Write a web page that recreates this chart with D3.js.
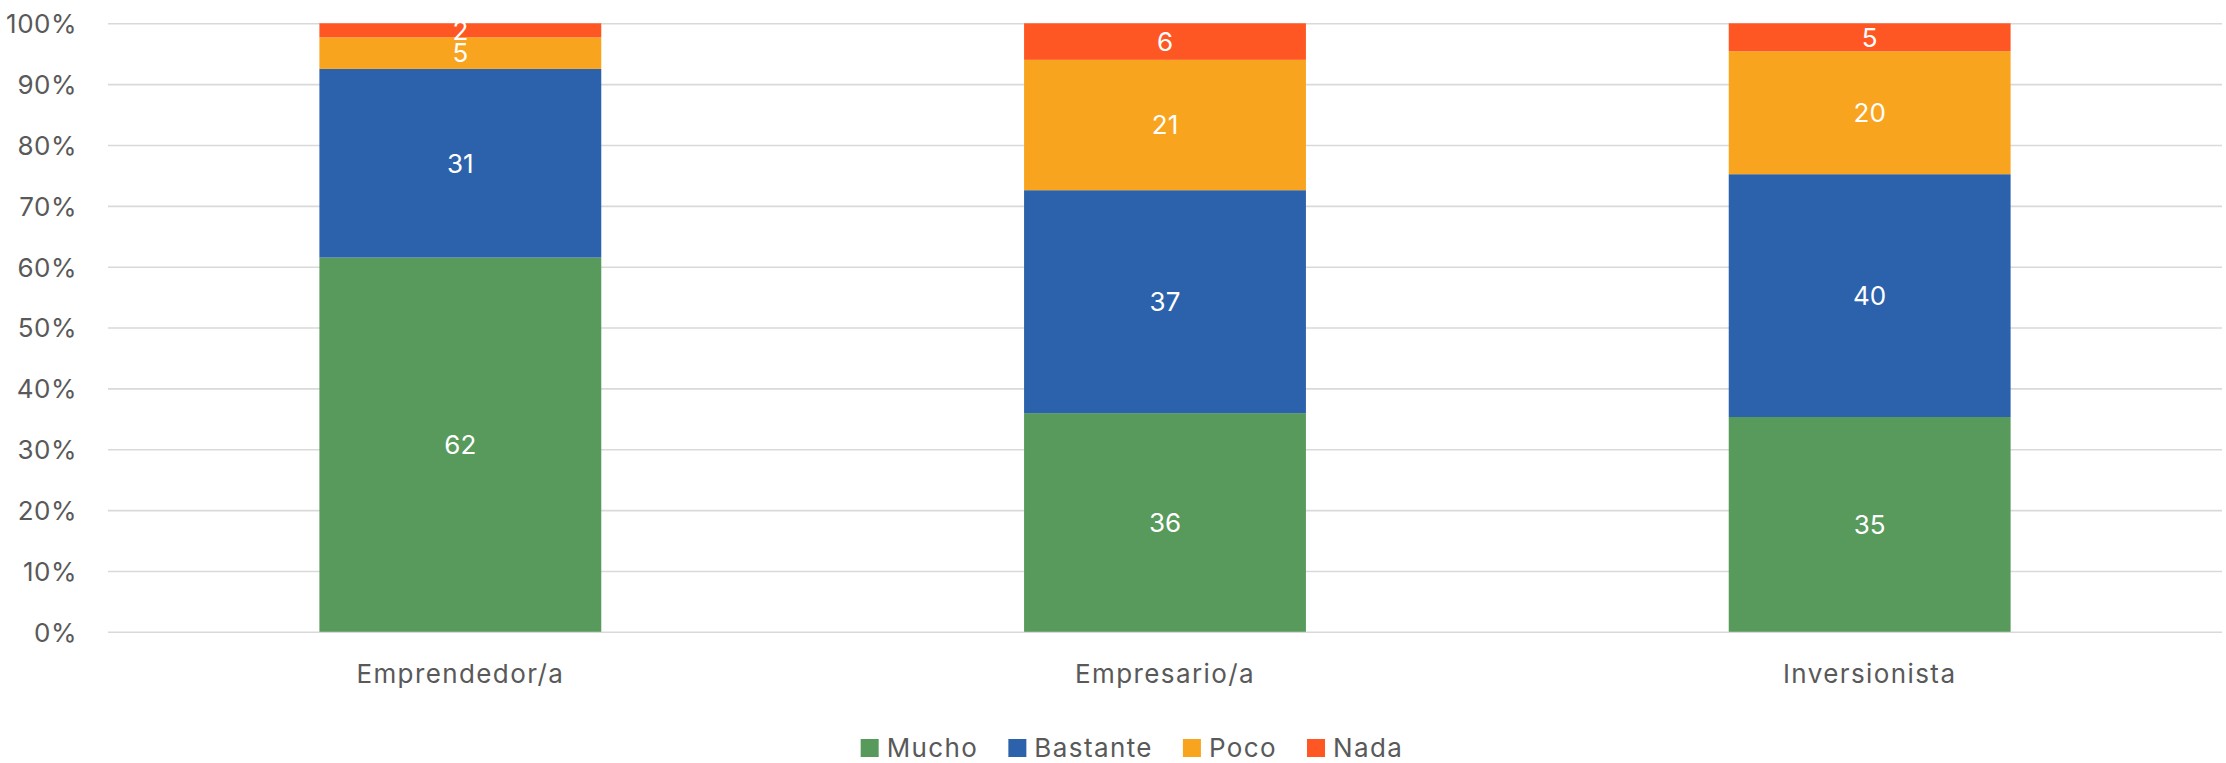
<!DOCTYPE html>
<html>
<head>
<meta charset="utf-8">
<script src="https://cdn.jsdelivr.net/npm/d3@7"></script>
<style>
  html, body { margin: 0; padding: 0; background: #fff; }
  svg { display: block; }
  text { font-family: "Inter", "Open Sans", sans-serif; }
</style>
</head>
<body>
<svg id="chart" width="2226" height="763"></svg>
<script>
// ---- data ----
const categories = ["Emprendedor/a", "Empresario/a", "Inversionista"];
const seriesNames = ["Mucho", "Bastante", "Poco", "Nada"];
const mucho    = [61.5, 35.9, 35.3];
const bastante = [31.0, 36.6, 39.9];
const poco     = [5.2, 21.4, 20.2];
const nada     = [2.3, 6.0, 4.6];
const yTicks   = [0, 0.1, 0.2, 0.3, 0.4, 0.5, 0.6, 0.7, 0.8, 0.9, 1.0];
const colors   = ["#579A5C", "#2C62AB", "#F9A41E", "#FF5724"];

const seriesValues = [mucho, bastante, poco, nada];
const table = categories.map((c, i) => {
  const row = { category: c };
  seriesNames.forEach((s, j) => row[s] = seriesValues[j][i]);
  return row;
});

const svg = d3.select("#chart");
const plotLeft = 108, plotRight = 2222, plotTop = 23.3, plotBottom = 631.8;
const textColor = "#595959";
const fs = 26;
const spacing = 1.4;

const x = d3.scaleBand().domain(categories).range([plotLeft, plotRight])
  .paddingInner(0.6).paddingOuter(0.3);
const y = d3.scaleLinear().domain([0, 1]).range([plotBottom, plotTop]);

// gridlines
const yAxis = d3.axisLeft(y).tickValues(yTicks).tickSize(-(plotRight - plotLeft)).tickFormat(d3.format(".0%")).tickPadding(31);
const gY = svg.append("g").attr("transform", `translate(${plotLeft},0)`).call(yAxis);
gY.select(".domain").remove();
gY.selectAll(".tick line").attr("stroke", "#d9d9d9").attr("stroke-width", 1.6);
gY.selectAll(".tick text").attr("fill", textColor).attr("font-size", fs)
  .attr("font-family", "Inter").attr("letter-spacing", 0.5).attr("dy", "0.36em");

// stack
const stack = d3.stack().keys(seriesNames).offset(d3.stackOffsetExpand);
const stacked = stack(table);

const layers = svg.append("g").selectAll("g").data(stacked).join("g")
  .attr("fill", (d, i) => colors[i]);
layers.selectAll("rect").data(d => d).join("rect")
  .attr("x", d => x(d.data.category))
  .attr("width", x.bandwidth())
  .attr("y", d => y(d[1]))
  .attr("height", d => y(d[0]) - y(d[1]));

// data labels
const labels = svg.append("g");
stacked.forEach((layer) => {
  labels.selectAll(null).data(layer).join("text")
    .attr("x", d => x(d.data.category) + x.bandwidth() / 2)
    .attr("y", d => (y(d[0]) + y(d[1])) / 2)
    .attr("dy", "0.36em")
    .attr("text-anchor", "middle")
    .attr("fill", "#fff")
    .attr("font-size", fs)
    .text(d => Math.round(d.data[layer.key]));
});

// x axis labels
const xAxis = d3.axisBottom(x).tickSize(0).tickPadding(0);
const gX = svg.append("g").attr("transform", `translate(0,${plotBottom})`).call(xAxis);
gX.select(".domain").remove();
gX.selectAll(".tick text").attr("fill", textColor).attr("font-size", fs)
  .attr("font-family", "Inter").attr("letter-spacing", spacing)
  .attr("dy", null).attr("y", 683 - plotBottom);

// legend
const legend = svg.append("g");
const sq = 18, gapSqText = 8, gapItems = 30, legendBaseline = 757, legendCenter = 1132;
const items = legend.selectAll("g").data(seriesNames).join("g");
items.append("rect").attr("width", sq).attr("height", sq)
  .attr("y", legendBaseline - sq).attr("fill", (d, i) => colors[i]);
items.append("text").attr("x", sq + gapSqText).attr("y", legendBaseline)
  .attr("fill", textColor).attr("font-size", fs).attr("letter-spacing", spacing).text(d => d);
let cx = 0;
const offsets = [];
items.each(function () {
  offsets.push(cx);
  const w = d3.select(this).select("text").node().getComputedTextLength();
  cx += sq + gapSqText + w + gapItems;
});
const total = cx - gapItems;
items.attr("transform", (d, i) => `translate(${legendCenter - total / 2 + offsets[i]},0)`);
</script>
</body>
</html>
